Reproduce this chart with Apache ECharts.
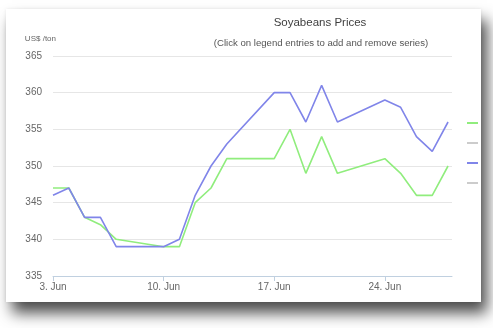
<!DOCTYPE html>
<html>
<head>
<meta charset="utf-8">
<script src="https://cdn.jsdelivr.net/npm/echarts@6/dist/echarts.min.js"></script>
<style>
  html, body { margin: 0; padding: 0; background: #ffffff; }
  #card {
    position: absolute; left: 6px; top: 9px; width: 475px; height: 293px;
    background: #ffffff;
    box-shadow: 6px 11px 14px rgba(0, 0, 0, 0.7), 0 0 3px rgba(0, 0, 0, 0.08);
  }
  #chart { position: absolute; left: 0; top: 0; width: 493px; height: 328px; }
</style>
</head>
<body>
<div id="card"></div>
<div id="chart"></div>
<script>
// Trading days, June (weekends are skipped)
const days = [3, 4, 5, 6, 7, 10, 11, 12, 13, 14, 17, 18, 19, 20, 21, 24, 25, 26, 27, 28];
// Prices in US$ per ton
const brazil = [347, 347, 343, 342, 340, 339, 339, 345, 347, 351, 351, 355, 349, 354, 349, 351, 349, 346, 346, 350];
const usGulf = [346, 347, 343, 343, 339, 339, 340, 346, 350, 353, 360, 360, 356, 361, 356, 359, 358, 354, 352, 356];
const argentina = [];
const china = [];
const yTicks = [335, 340, 345, 350, 355, 360, 365];

const DAY = 86400000;
const t = d => Date.UTC(2013, 5, d);
const pairs = vals => vals.map((v, i) => [t(days[i]), v]);

const chart = echarts.init(document.getElementById('chart'), null, { renderer: 'canvas' });
const font = '"Liberation Sans", "DejaVu Sans", sans-serif';

chart.setOption({
  animation: false,
  backgroundColor: 'transparent',
  title: [
    { text: 'Soyabeans Prices', left: 315, top: 12, textAlign: 'center',
      textStyle: { fontFamily: font, fontSize: 11.5, fontWeight: 'normal', color: '#3e3e3e' } },
    { text: '(Click on legend entries to add and remove series)', left: 316, top: 33, textAlign: 'center',
      textStyle: { fontFamily: font, fontSize: 9.6, fontWeight: 'normal', color: '#555555' } }
  ],
  legend: {
    orient: 'vertical', left: 462, top: 117, itemGap: 18,
    itemWidth: 11, itemHeight: 2, icon: 'rect',
    formatter: () => '',
    inactiveColor: '#cccccc', inactiveBorderColor: '#cccccc',
    data: ['Brazil', 'Argentina', 'US Gulf', 'China'],
    selected: { 'Argentina': false, 'China': false }
  },
  grid: { left: 53, right: 41, top: 56, bottom: 52, containLabel: false },
  xAxis: {
    type: 'value',
    min: t(3), max: t(28) + 0.25 * DAY, interval: 7 * DAY,
    axisLine: { show: true, lineStyle: { color: '#c0d0e0', width: 1 } },
    axisTick: { show: true, length: 5, lineStyle: { color: '#c0d0e0' } },
    splitLine: { show: false },
    axisLabel: {
      fontFamily: font, fontSize: 10, color: '#666666', margin: 6,
      showMaxLabel: false,
      formatter: v => new Date(v).getUTCDate() + '. Jun'
    }
  },
  yAxis: {
    type: 'value', min: yTicks[0], max: yTicks[yTicks.length - 1], interval: 5,
    name: 'US$ /ton', nameLocation: 'end', nameGap: 17,
    nameTextStyle: { fontFamily: font, fontSize: 8, color: '#666666', align: 'right',
      verticalAlign: 'middle', padding: [0, -3, 0, 0] },
    axisLine: { show: false },
    axisTick: { show: false },
    splitLine: { lineStyle: { color: '#e6e6e6', width: 1 } },
    axisLabel: { fontFamily: font, fontSize: 10, color: '#666666', margin: 11 }
  },
  series: [
    { name: 'Brazil', type: 'line', data: pairs(brazil), color: '#90ed7d', showSymbol: false,
      lineStyle: { width: 1.6 } },
    { name: 'Argentina', type: 'line', data: argentina, color: '#f7a35c', showSymbol: false },
    { name: 'US Gulf', type: 'line', data: pairs(usGulf), color: '#8085e9', showSymbol: false,
      lineStyle: { width: 1.6 } },
    { name: 'China', type: 'line', data: china, color: '#f15c80', showSymbol: false }
  ]
});
</script>
</body>
</html>
